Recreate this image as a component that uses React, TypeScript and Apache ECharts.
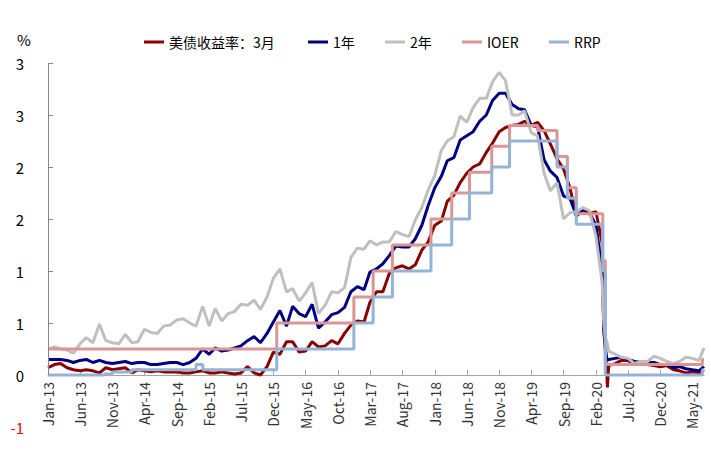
import React, { useEffect, useRef } from "react";
import * as echarts from "echarts";

const MONTH_NAMES = ["Jan", "Feb", "Mar", "Apr", "May", "Jun", "Jul", "Aug", "Sep", "Oct", "Nov", "Dec"];

// x-axis tick labels (first day of each month shown)
const xTickLabels = [
  "Jan-13", "Jun-13", "Nov-13", "Apr-14", "Sep-14", "Feb-15", "Jul-15", "Dec-15", "May-16", "Oct-16",
  "Mar-17", "Aug-17", "Jan-18", "Jun-18", "Nov-18", "Apr-19", "Sep-19", "Feb-20", "Jul-20", "Dec-20", "May-21",
];

// y-axis ticks
const yTicks = [-0.5, 0, 0.5, 1, 1.5, 2, 2.5, 3];
const yMin = -0.5;
const yMax = 3;

const startDate = "2013-01-01";
const endDate = "2021-06-25";

// monthly samples (1st of month) Jan 2013 .. Jun 2021
const t3m = [
  0.07, 0.10, 0.11, 0.07, 0.05, 0.04, 0.05, 0.04, 0.02, 0.07, 0.05, 0.06,
  0.07, 0.02, 0.05, 0.04, 0.03, 0.04, 0.03, 0.03, 0.03, 0.02, 0.02, 0.03,
  0.04, 0.02, 0.02, 0.03, 0.02, 0.01, 0.02, 0.08, 0.02, 0.00, 0.08, 0.22,
  0.20, 0.32, 0.32, 0.22, 0.23, 0.32, 0.27, 0.28, 0.33, 0.30, 0.40, 0.48,
  0.52, 0.51, 0.70, 0.80, 0.80, 0.98, 1.03, 1.05, 1.02, 1.06, 1.20, 1.28,
  1.44, 1.48, 1.67, 1.73, 1.85, 1.94, 2.00, 2.03, 2.14, 2.23, 2.34, 2.38,
  2.40, 2.41, 2.44, 2.40, 2.43, 2.35, 2.22, 2.08, 1.98, 1.80, 1.53, 1.58,
  1.55, 1.57, 1.27, 0.09, 0.11, 0.14, 0.14, 0.10, 0.11, 0.10, 0.09, 0.08,
  0.09, 0.05, 0.04, 0.02, 0.03, 0.02,
];
const t1y = [
  0.15, 0.15, 0.15, 0.14, 0.12, 0.14, 0.15, 0.12, 0.14, 0.12, 0.11, 0.12,
  0.13, 0.11, 0.12, 0.12, 0.10, 0.10, 0.11, 0.12, 0.12, 0.10, 0.12, 0.16,
  0.25, 0.20, 0.26, 0.23, 0.24, 0.26, 0.28, 0.33, 0.37, 0.31, 0.40, 0.51,
  0.62, 0.47, 0.66, 0.59, 0.56, 0.68, 0.45, 0.51, 0.58, 0.60, 0.65, 0.80,
  0.85, 0.82, 0.99, 1.02, 1.07, 1.15, 1.24, 1.23, 1.23, 1.31, 1.44, 1.63,
  1.80, 1.91, 2.06, 2.09, 2.26, 2.30, 2.34, 2.44, 2.50, 2.64, 2.71, 2.71,
  2.60, 2.56, 2.55, 2.40, 2.39, 2.07, 1.96, 1.90, 1.72, 1.70, 1.53, 1.60,
  1.56, 1.44, 1.00, 0.15, 0.16, 0.17, 0.15, 0.13, 0.12, 0.12, 0.12, 0.10,
  0.10, 0.07, 0.08, 0.06, 0.05, 0.04,
];
const t2y = [
  0.25, 0.27, 0.25, 0.24, 0.21, 0.30, 0.36, 0.31, 0.49, 0.33, 0.31, 0.30,
  0.39, 0.31, 0.32, 0.44, 0.41, 0.40, 0.47, 0.48, 0.53, 0.54, 0.50, 0.47,
  0.66, 0.47, 0.64, 0.52, 0.59, 0.61, 0.68, 0.67, 0.72, 0.63, 0.75, 0.93,
  1.02, 0.80, 0.83, 0.71, 0.79, 0.89, 0.59, 0.67, 0.80, 0.79, 0.84, 1.13,
  1.22, 1.21, 1.29, 1.25, 1.28, 1.28, 1.38, 1.35, 1.33, 1.49, 1.61, 1.78,
  1.92, 2.16, 2.25, 2.29, 2.49, 2.43, 2.57, 2.66, 2.66, 2.82, 2.91, 2.83,
  2.50, 2.50, 2.54, 2.33, 2.30, 1.94, 1.77, 1.85, 1.50, 1.56, 1.57, 1.61,
  1.58, 1.33, 0.89, 0.23, 0.20, 0.17, 0.16, 0.11, 0.13, 0.13, 0.18, 0.16,
  0.13, 0.11, 0.13, 0.17, 0.16, 0.14,
];

// extra daily readings around the March 2020 crash and at the last date
const extraDates = ["2020-03-09", "2020-03-16", "2020-03-23", "2020-03-26", "2021-06-25"];
const t3mExtra = [0.45, 0.24, 0.02, -0.12, 0.05];
const t1yExtra = [0.43, 0.27, 0.16, 0.14, 0.08];
const t2yExtra = [0.50, 0.36, 0.32, 0.30, 0.26];

// policy rates: change dates and new levels
const ioerDates = [
  "2013-01-01", "2015-12-17", "2016-12-15", "2017-03-16", "2017-06-15", "2017-12-14", "2018-03-22",
  "2018-06-14", "2018-09-27", "2018-12-20", "2019-05-02", "2019-08-01", "2019-09-19", "2019-10-31",
  "2020-03-04", "2020-03-16", "2021-06-17", "2021-06-25",
];
const ioerValues = [
  0.25, 0.5, 0.75, 1.0, 1.25, 1.5, 1.75, 1.95, 2.2, 2.4, 2.35, 2.1, 1.8, 1.55, 1.1, 0.1, 0.15, 0.15,
];
const rrpDates = [
  "2013-01-01", "2013-09-23", "2013-11-01", "2014-02-01", "2014-12-01", "2015-01-02", "2015-12-17",
  "2016-12-15", "2017-03-16", "2017-06-15", "2017-12-14", "2018-03-22", "2018-06-14", "2018-09-27",
  "2018-12-20", "2019-08-01", "2019-09-19", "2019-10-31", "2020-03-04", "2020-03-16", "2021-06-17",
  "2021-06-25",
];
const rrpValues = [
  0, 0.01, 0.03, 0.05, 0.1, 0.05, 0.25, 0.5, 0.75, 1.0, 1.25, 1.5, 1.75, 2.0, 2.25, 2.0, 1.7, 1.45, 1.0,
  0, 0.05, 0.05,
];

const ts = (s: string) => {
  const [y, m, d] = s.split("-").map(Number);
  return Date.UTC(y, m - 1, d);
};
const monthTs = (i: number) => Date.UTC(2013, i, 1);
const labelTs = (lab: string) => {
  const [mon, yy] = lab.split("-");
  return Date.UTC(2000 + Number(yy), MONTH_NAMES.indexOf(mon), 1);
};

function buildSeries(monthly: number[], extra: number[]) {
  const pts: number[][] = monthly.map((v, i) => [monthTs(i), v]);
  extraDates.forEach((d, i) => pts.push([ts(d), extra[i]]));
  return pts.sort((a, b) => a[0] - b[0]);
}
const stepSeries = (dates: string[], vals: number[]) => dates.map((d, i) => [ts(d), vals[i]]);

const FONT = "'Noto Sans CJK SC', 'Noto Sans', sans-serif";

export default function App() {
  const ref = useRef<HTMLDivElement>(null);
  useEffect(() => {
    if (!ref.current) return;
    const chart = echarts.init(ref.current, undefined, { renderer: "svg" });
    const xMin = ts(startDate);
    const xMax = ts(endDate);
    const tickVals = xTickLabels.map(labelTs);
    const names = ["美债收益率：3月", "1年", "2年", "IOER", "RRP"];
    const colors = ["#8B0000", "#000080", "#BFBFBF", "#DA9694", "#95B3D7"];
    const legendLefts = [139, 303, 380, 457, 544];
    const gridTop = 63;
    const gridBottom = 35;
    const plotH = 462 - gridTop - gridBottom;
    // place the category axis on the zero line of the value axis
    const zeroOffset = -((0 - yMin) / (yMax - yMin)) * plotH;
    const lineBase = (name: string, color: string, data: number[][], step?: boolean) => ({
      name,
      type: "line",
      data,
      showSymbol: false,
      symbol: "none",
      step: step ? "end" : false,
      lineStyle: { color, width: 3 },
      itemStyle: { color },
      z: 2,
    });
    const s3m: any = lineBase(names[0], colors[0], buildSeries(t3m, t3mExtra));
    s3m.markLine = {
      silent: true,
      symbol: ["none", "none"],
      label: { show: false },
      lineStyle: { color: "#868686", width: 1, type: "solid" },
      data: [[{ coord: [xMin, 0] }, { coord: [xMin, yMax] }]],
    };
    chart.setOption({
      animation: false,
      textStyle: { fontFamily: FONT },
      grid: { left: 48, right: 7, top: gridTop, bottom: gridBottom, containLabel: false, outerBoundsMode: "none" },
      legend: names.map((n, i) => ({
        data: [n],
        left: legendLefts[i],
        top: 30,
        icon: "rect",
        itemWidth: 20,
        itemHeight: 3,
        selectedMode: false,
        textStyle: { fontSize: 14, color: "#000", fontFamily: FONT },
      })),
      graphic: [
        { type: "text", left: 17, top: 32, style: { text: "%", fontSize: 15, fill: "#000", fontFamily: FONT } },
      ],
      xAxis: {
        type: "value",
        min: xMin,
        max: xMax,
        offset: zeroOffset,
        splitLine: { show: false },
        axisLine: { show: true, onZero: false, lineStyle: { color: "#A6A6A6", width: 1 } },
        axisTick: { show: true, inside: true, length: 5, lineStyle: { color: "#A6A6A6" }, customValues: tickVals },
        axisLabel: {
          rotate: 90,
          margin: 7,
          fontSize: 14,
          color: "#333",
          fontFamily: FONT,
          customValues: tickVals,
          formatter: (v: number) => {
            const d = new Date(v);
            return MONTH_NAMES[d.getUTCMonth()] + "-" + String(d.getUTCFullYear()).slice(2);
          },
        },
      },
      yAxis: {
        type: "value",
        min: yMin,
        max: yMax,
        interval: 0.5,
        splitLine: { show: false },
        axisLine: { show: false },
        axisTick: {
          show: true,
          inside: true,
          length: 5,
          lineStyle: { color: "#868686" },
          customValues: yTicks.filter((v) => v >= 0),
        },
        axisLabel: {
          fontSize: 15,
          margin: 24,
          fontFamily: FONT,
          customValues: yTicks,
          formatter: (v: number) => String(Math.sign(v) * Math.round(Math.abs(v))),
          color: (v: any) => (Number(v) < 0 ? "#FF0000" : "#000"),
        },
      },
      series: [
        s3m,
        lineBase(names[1], colors[1], buildSeries(t1y, t1yExtra)),
        lineBase(names[2], colors[2], buildSeries(t2y, t2yExtra)),
        lineBase(names[3], colors[3], stepSeries(ioerDates, ioerValues), true),
        lineBase(names[4], colors[4], stepSeries(rrpDates, rrpValues), true),
      ],
    });
    return () => chart.dispose();
  }, []);
  return <div ref={ref} style={{ width: 711, height: 462, position: "absolute", left: 0, top: 0 }} />;
}
